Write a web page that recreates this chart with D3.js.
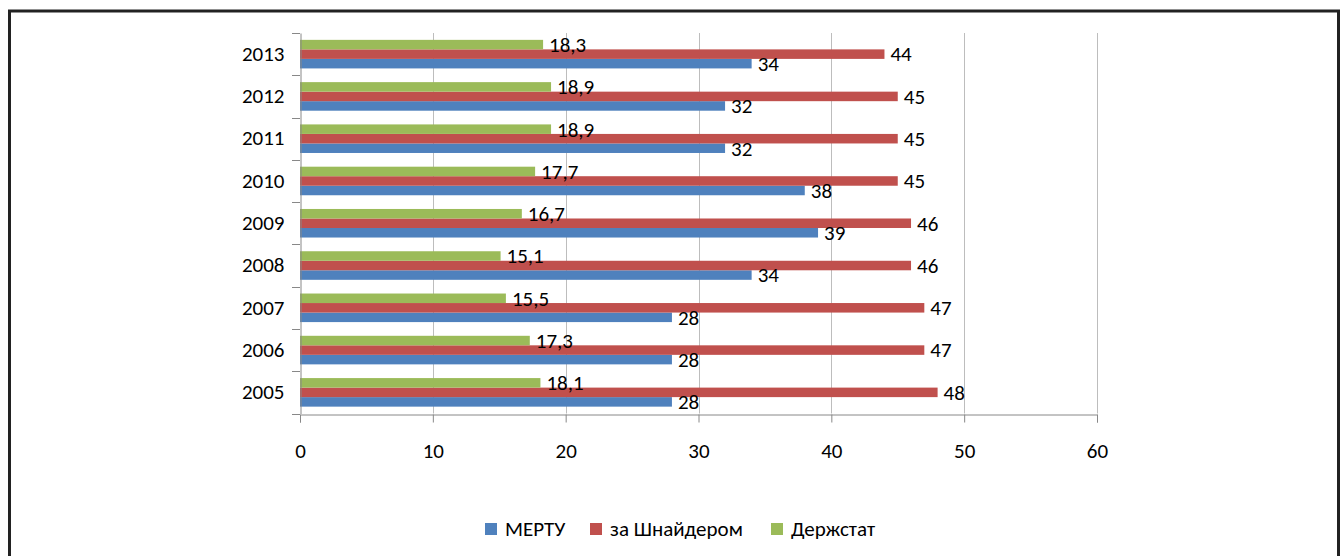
<!DOCTYPE html>
<html><head><meta charset="utf-8">
<script src="https://cdn.jsdelivr.net/npm/d3@7"></script>
<style>body{margin:0;background:#fff;} svg{display:block;}</style>
</head><body>
<svg id="c" width="1343" height="556"></svg>
<script>
const years = ["2005","2006","2007","2008","2009","2010","2011","2012","2013"];
const mertu = [28,28,28,34,39,38,32,32,34];
const schneider = [48,47,47,46,46,45,45,45,44];
const derzhstat = [18.1,17.3,15.5,15.1,16.7,17.7,18.9,18.9,18.3];
const xTicks = [0,10,20,30,40,50,60];
const seriesNames = ["МЕРТУ","за Шнайдером","Держстат"];
const colors = ["#4F81BD","#C0504D","#9BBB59"];

(function(){
const font = "Carlito, Calibri, Lato, 'Open Sans', sans-serif";
const fs = 21;
const svg = d3.select("#c");
svg.append("path").attr("d","M9.5,560 V11 H1338.5 V560").attr("fill","none").attr("stroke","#222").attr("stroke-width",3);

const pL=300, pR=1097, pT=33, pB=413.5;
const x = d3.scaleLinear().domain([0,60]).range([pL,pR]);
const y = d3.scaleBand().domain(years.slice().reverse()).range([pT,pB]).paddingInner(0).paddingOuter(0);
const inner = d3.scaleBand().domain([2,1,0]).range([0,y.bandwidth()]).paddingOuter(0.72).paddingInner(0);

svg.append("g").selectAll("line").data(xTicks.slice(1)).join("line")
  .attr("x1",d=>Math.round(x(d))+0.5).attr("x2",d=>Math.round(x(d))+0.5)
  .attr("y1",pT).attr("y2",pB).attr("stroke","#bdbdbd").attr("stroke-width",1);

const series=[mertu,schneider,derzhstat];
const g = svg.append("g");
series.forEach((vals,si)=>{
  g.selectAll(null).data(vals).join("rect")
    .attr("x",x(0)).attr("y",(d,i)=>y(years[i])+inner(si))
    .attr("width",d=>x(d)-x(0)).attr("height",inner.bandwidth())
    .attr("fill",colors[si]);
});
series.forEach((vals,si)=>{
  g.selectAll(null).data(vals).join("text")
    .attr("x",d=>x(d)+6).attr("y",(d,i)=>y(years[i])+inner(si)+inner.bandwidth()/2)
    .attr("dy","0.35em").attr("font-family",font).attr("font-size",fs).attr("fill","#000")
    .text(d=>String(d).replace(".",","));
});

const yAxis = d3.axisLeft(y).tickSize(0).tickPadding(16);
const ya = svg.append("g").attr("transform",`translate(${pL+0.5},0)`).call(yAxis);
ya.select(".domain").attr("stroke","#888");
ya.selectAll("text").attr("font-family",font).attr("font-size",fs).attr("fill","#000");
svg.append("g").selectAll("line").data(d3.range(years.length+1)).join("line")
  .attr("x1",pL-8).attr("x2",pL)
  .attr("y1",d=>Math.round(pT+d*y.step())+0.5).attr("y2",d=>Math.round(pT+d*y.step())+0.5)
  .attr("stroke","#888");

const xAxis = d3.axisBottom(x).tickValues(xTicks).tickSize(8).tickPadding(21).tickFormat(d3.format("d"));
const xa = svg.append("g").attr("transform",`translate(0,${Math.round(pB)+0.5})`).call(xAxis);
xa.select(".domain").attr("stroke","#888");
xa.selectAll(".tick line").attr("stroke","#888");
xa.selectAll("text").attr("font-family",font).attr("font-size",fs).attr("fill","#000");

const legX=[485,590,771];
const lg=svg.append("g");
seriesNames.forEach((n,i)=>{
  lg.append("rect").attr("x",legX[i]).attr("y",523).attr("width",12).attr("height",12).attr("fill",colors[i]);
  lg.append("text").attr("x",legX[i]+20).attr("y",529).attr("dy","0.35em")
    .attr("font-family",font).attr("font-size",fs).attr("fill","#000").text(n);
});
})();
</script>
</body></html>
